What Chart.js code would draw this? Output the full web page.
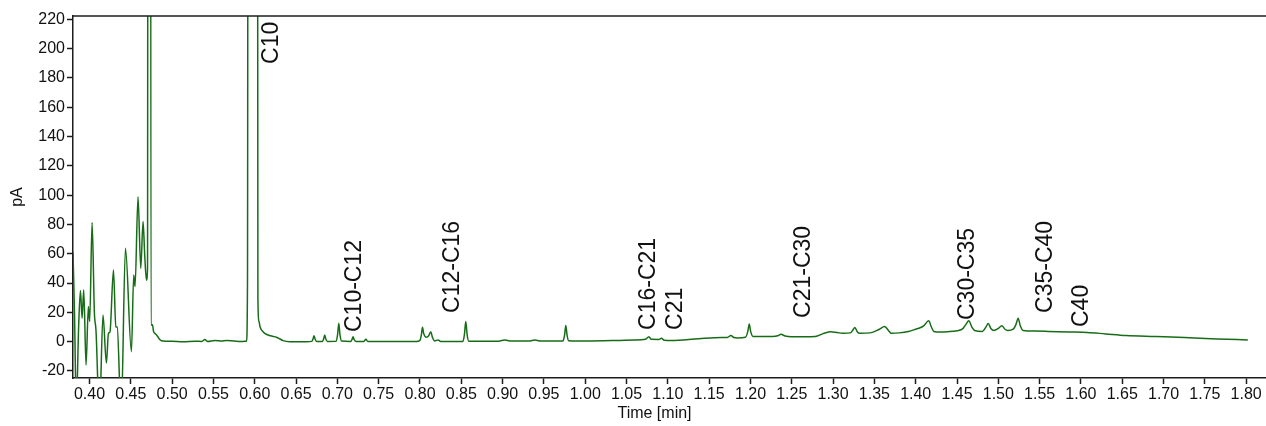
<!DOCTYPE html>
<html>
<head>
<meta charset="utf-8">
<title>GC-FID chromatogram</title>
<script src="https://cdn.jsdelivr.net/npm/chart.js@4/dist/chart.umd.min.js"></script>
<style>
  html, body { margin: 0; padding: 0; background: #ffffff; }
  #wrap { width: 1266px; height: 426px; position: relative; }
</style>
</head>
<body>
<div id="wrap"><canvas id="chrom" width="1266" height="426"></canvas></div>
<script>
// Retention time (min) of each sample point of the detector trace
const timeMin = [
  0.3800, 0.3818, 0.3840, 0.3868, 0.3890, 0.3910, 0.3930, 0.3958, 0.3986, 0.4002,
  0.4031, 0.4059, 0.4078, 0.4120, 0.4163, 0.4204, 0.4229, 0.4247, 0.4290, 0.4318,
  0.4335, 0.4383, 0.4435, 0.4507, 0.4535, 0.4551, 0.4587, 0.4620, 0.4648, 0.4668,
  0.4689, 0.4702, 0.4712, 0.4734, 0.4744, 0.4762, 0.4775, 0.4789, 0.4812, 0.4840,
  0.4870, 0.5000, 0.5130, 0.5280, 0.5360, 0.5395, 0.5430, 0.5516, 0.5600, 0.5657,
  0.5760, 0.5850, 0.5900, 0.5912, 0.5930, 0.6020, 0.6038, 0.6050, 0.6065, 0.6081,
  0.6121, 0.6190, 0.6263, 0.6300, 0.6343, 0.6424, 0.6626, 0.6690, 0.6705, 0.6718,
  0.6731, 0.6750, 0.6820, 0.6834, 0.6847, 0.6860, 0.6880, 0.6985, 0.7003, 0.7017,
  0.7031, 0.7050, 0.7160, 0.7177, 0.7190, 0.7203, 0.7225, 0.7320, 0.7344, 0.7370,
  0.7958, 0.8000, 0.8016, 0.8030, 0.8045, 0.8079, 0.8105, 0.8131, 0.8150, 0.8179,
  0.8219, 0.8250, 0.8520, 0.8538, 0.8554, 0.8570, 0.8590, 0.8950, 0.9027, 0.9100,
  0.9320, 0.9390, 0.9460, 0.9730, 0.9750, 0.9765, 0.9780, 0.9800, 1.0000, 1.0379,
  1.0600, 1.0730, 1.0770, 1.0800, 1.0890, 1.0924, 1.0955, 1.1045, 1.1374, 1.1654,
  1.1720, 1.1763, 1.1800, 1.1844, 1.1940, 1.1968, 1.1985, 1.2002, 1.2031, 1.2267,
  1.2330, 1.2370, 1.2420, 1.2501, 1.2784, 1.2880, 1.2973, 1.3050, 1.3114, 1.3210,
  1.3240, 1.3264, 1.3290, 1.3324, 1.3450, 1.3560, 1.3622, 1.3680, 1.3702, 1.3800,
  1.3913, 1.4000, 1.4054, 1.4100, 1.4157, 1.4190, 1.4219, 1.4300, 1.4384, 1.4500,
  1.4571, 1.4610, 1.4643, 1.4680, 1.4713, 1.4807, 1.4850, 1.4878, 1.4910, 1.4947,
  1.5000, 1.5042, 1.5080, 1.5112, 1.5180, 1.5215, 1.5240, 1.5265, 1.5300, 1.5450,
  1.5606, 1.5850, 1.6076, 1.6300, 1.6547, 1.6900, 1.7253, 1.7650, 1.8020
];

// Detector signal (pA) at each retention time above
const signalPA = [
  61, 20, -45, 10, 35, 16, 35.5, -16, 24, 13.7,
  81.3, 19.6, 8, -50, 18.2, -14.6, 5.7, 6.5, 49, 10.2,
  10, -50, 63.7, -6.8, 45.5, 37.6, 99, 50, 82, 59,
  42, 50, 1000, 1000, 11.4, 11.5, 7, 5.7, 4.6, 2.2,
  0.7, 0.3, 0, 0.3, 0.2, 1.4, 0.1, 0.8, 0.5, 0.8,
  0.4, 0.2, 0.3, 40, 1500, 1500, 30, 14, 10, 8,
  5.7, 4, 3, 2, 0.7, 0, 0, 0.2, 1.8, 4.1,
  1.6, 0.2, 0.2, 2, 4.6, 1.8, 0.2, 0.3, 5, 12.5,
  5, 0.4, 0.2, 1.5, 3.4, 1.4, 0.2, 0.2, 1.6, 0.1,
  0.1, 1, 4.5, 9.8, 5.5, 3, 4, 6.8, 3, 0.5,
  1.2, 0.2, 0.2, 5, 13.7, 5, 0.3, 0.3, 1.2, 0.4,
  0.4, 1.2, 0.4, 0.4, 4.5, 11, 4.5, 0.6, 0.4, 0.8,
  1.2, 1.6, 3.4, 1.6, 1.5, 2.4, 1.0, 0.8, 2, 2.8,
  2.9, 4.2, 2.8, 2.5, 3, 7, 12.1, 7, 3.6, 3.6,
  4, 5, 3.8, 3.4, 3.6, 5.5, 6.8, 6.2, 5.7, 6,
  8, 9.7, 7, 5.7, 6, 8.5, 10.3, 7, 5.7, 6,
  7, 8.5, 9.5, 11, 14.2, 10, 7, 6.6, 6.8, 7.5,
  8.9, 12, 14.2, 10, 7.6, 7, 10, 12.4, 9, 7.6,
  9, 10.8, 8.5, 7.6, 8.5, 12, 16, 11, 7.6, 7.2,
  7, 6.6, 6.3, 5.3, 4.2, 3.5, 2.8, 1.9, 1.2
];

// Peak group annotations: text, retention time and signal level where each starts
const peakLabels      = ['C10', 'C10-C12', 'C12-C16', 'C16-C21', 'C21', 'C21-C30', 'C30-C35', 'C35-C40', 'C40'];
const peakLabelTimes  = [0.620, 0.721, 0.839, 1.077, 1.110, 1.264, 1.463, 1.557, 1.601];
const peakLabelLevels = [189.6, 6.6, 19.6, 8.0, 8.0, 16.2, 14.8, 19.6, 10.0];

// Axis ranges and tick steps
const timeRange   = [0.38, 1.824];
const signalRange = [-24.8, 222.3];
const timeStep    = 0.05;
const signalStep  = 20;

const FONT = '"Liberation Sans", Arial, Helvetica, sans-serif';
const AXIS = '#1c1c1c';
const TRACE = '#176d17';

const points = timeMin.map((t, i) => ({ x: t, y: signalPA[i] }));

// Draws the top frame line, the rotated peak-group labels and the time axis title
const frameAndLabels = {
  id: 'frameAndLabels',
  afterDraw(chart) {
    const { ctx, chartArea, scales: { x, y } } = chart;
    ctx.save();
    ctx.strokeStyle = AXIS;
    ctx.lineWidth = 1.5;
    ctx.beginPath();
    ctx.moveTo(chartArea.left, chartArea.top);
    ctx.lineTo(chartArea.right, chartArea.top);
    ctx.stroke();

    ctx.fillStyle = '#111111';
    ctx.font = '23px ' + FONT;
    ctx.textAlign = 'left';
    ctx.textBaseline = 'middle';
    peakLabels.forEach((txt, i) => {
      ctx.save();
      ctx.translate(x.getPixelForValue(peakLabelTimes[i]), y.getPixelForValue(peakLabelLevels[i]));
      ctx.rotate(-Math.PI / 2);
      ctx.fillText(txt, 0, 0);
      ctx.restore();
    });

    ctx.font = '16px ' + FONT;
    ctx.textAlign = 'center';
    ctx.textBaseline = 'middle';
    ctx.fillText('Time [min]', (chartArea.left + chartArea.right) / 2 - 15, 414);
    ctx.restore();
  }
};

new Chart(document.getElementById('chrom'), {
  type: 'line',
  data: {
    datasets: [{
      data: points,
      borderColor: TRACE,
      borderWidth: 1.5,
      pointRadius: 0,
      cubicInterpolationMode: 'monotone',
      fill: false
    }]
  },
  options: {
    responsive: false,
    animation: false,
    devicePixelRatio: 1,
    layout: { padding: { top: 16, left: 0, right: 0, bottom: 0 } },
    plugins: { legend: { display: false }, tooltip: { enabled: false } },
    scales: {
      x: {
        type: 'linear',
        min: timeRange[0],
        max: timeRange[1],
        afterFit(scale) { scale.height = 48; },
        ticks: {
          stepSize: timeStep,
          includeBounds: false,
          autoSkip: false,
          maxRotation: 0,
          padding: 1,
          color: '#111111',
          font: { family: FONT, size: 16 },
          callback: v => Number(v).toFixed(2)
        },
        grid: { drawOnChartArea: false, drawTicks: true, tickLength: 6, tickColor: AXIS, tickWidth: 1.5 },
        border: { display: true, color: AXIS, width: 1.5 }
      },
      y: {
        type: 'linear',
        min: signalRange[0],
        max: signalRange[1],
        afterFit(scale) { scale.width = 73; },
        ticks: {
          stepSize: signalStep,
          includeBounds: false,
          padding: 2,
          color: '#111111',
          font: { family: FONT, size: 16 },
          callback: v => String(Math.round(v))
        },
        grid: { drawOnChartArea: false, drawTicks: true, tickLength: 6, tickColor: AXIS, tickWidth: 1.5 },
        border: { display: true, color: AXIS, width: 1.5 },
        title: { display: true, text: 'pA', color: '#111111', font: { family: FONT, size: 16 }, padding: { top: 8, bottom: 0 } }
      }
    }
  },
  plugins: [frameAndLabels]
});
</script>
</body>
</html>
